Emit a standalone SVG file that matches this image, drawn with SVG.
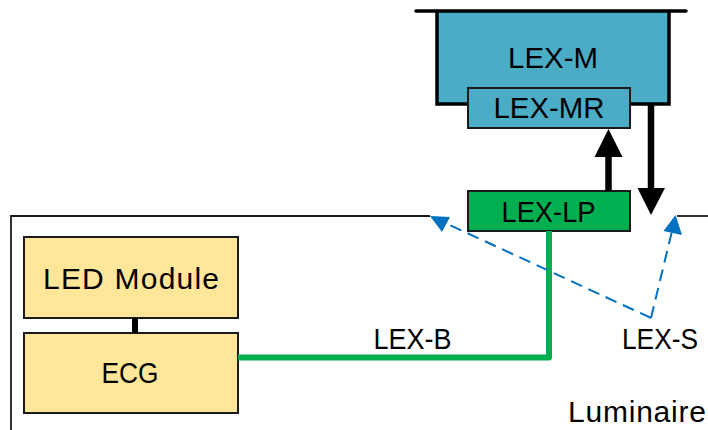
<svg xmlns="http://www.w3.org/2000/svg" width="708" height="430" viewBox="0 0 708 430">
<style>
text{font-family:"Liberation Sans",Arial,sans-serif;font-size:30px;fill:#000;}
.c{text-anchor:middle;}
.lum{fill:none;stroke:#1a1a1a;stroke-width:1.8;}
.yel{fill:#FFE699;stroke:#1a1a1a;stroke-width:2;}
.teal{fill:#4BACC6;}
.grn{fill:#00B050;stroke:#1a1a1a;stroke-width:2;}
.dash{fill:none;stroke:#0070C0;stroke-width:2;stroke-dasharray:12 7;}
</style>
<rect width="708" height="430" fill="#fff"/>
<g id="luminaire">
<polyline class="lum" points="430,216 11,216 11,430"/>
<line class="lum" x1="677" y1="216" x2="708" y2="216"/>
<text x="568" y="421.5" textLength="138" lengthAdjust="spacing">Luminaire</text>
</g>
<g id="lex-m">
<path class="teal" d="M437,11 H669 V104 H437 Z"/>
<path d="M437,11 V104 H468 M630,104 H669 V11" fill="none" stroke="#000" stroke-width="3.5"/>
<line x1="416" y1="11" x2="686" y2="11" stroke="#000" stroke-width="3.5" stroke-linecap="round"/>
<text class="c" x="553" y="68" textLength="90" lengthAdjust="spacingAndGlyphs">LEX-M</text>
</g>
<g id="lex-mr">
<rect x="468" y="88" width="162" height="40" fill="#4BACC6" stroke="#1a1a1a" stroke-width="2"/>
<text class="c" x="549" y="118" textLength="111" lengthAdjust="spacingAndGlyphs">LEX-MR</text>
</g>
<g id="lex-lp">
<rect class="grn" x="468" y="191" width="162" height="40"/>
<text class="c" x="548.5" y="221.5" textLength="94" lengthAdjust="spacingAndGlyphs">LEX-LP</text>
</g>
<g id="led-module">
<rect class="yel" x="24" y="237" width="214" height="81"/>
<text class="c" x="131" y="289" textLength="176" lengthAdjust="spacing">LED Module</text>
</g>
<g id="ecg">
<rect class="yel" x="24" y="333" width="214" height="80"/>
<text class="c" x="130" y="383" textLength="57" lengthAdjust="spacingAndGlyphs">ECG</text>
</g>
<g id="connectors">
<line x1="135" y1="318" x2="135" y2="333" stroke="#000" stroke-width="6"/>
<path d="M238,357.5 H549 V231" fill="none" stroke="#00B050" stroke-width="6" stroke-linejoin="round"/>
<line x1="608.5" y1="191" x2="608.5" y2="155" stroke="#000" stroke-width="6.5"/>
<polygon points="594.5,157 622.5,157 608.5,129" fill="#000"/>
<line x1="651" y1="104" x2="651" y2="190" stroke="#000" stroke-width="6.5"/>
<polygon points="637.5,188 665,188 651,215" fill="#000"/>
<line class="dash" x1="651" y1="318" x2="445" y2="222.8"/>
<polygon points="430,216 450,217 442,232" fill="#0070C0"/>
<line class="dash" x1="651" y1="318" x2="672" y2="231"/>
<polygon points="675.5,215 663.5,231 682,235" fill="#0070C0"/>
<text class="c" x="412.5" y="349" textLength="78" lengthAdjust="spacingAndGlyphs">LEX-B</text>
<text class="c" x="660" y="349" textLength="76" lengthAdjust="spacingAndGlyphs">LEX-S</text>
</g>
</svg>
